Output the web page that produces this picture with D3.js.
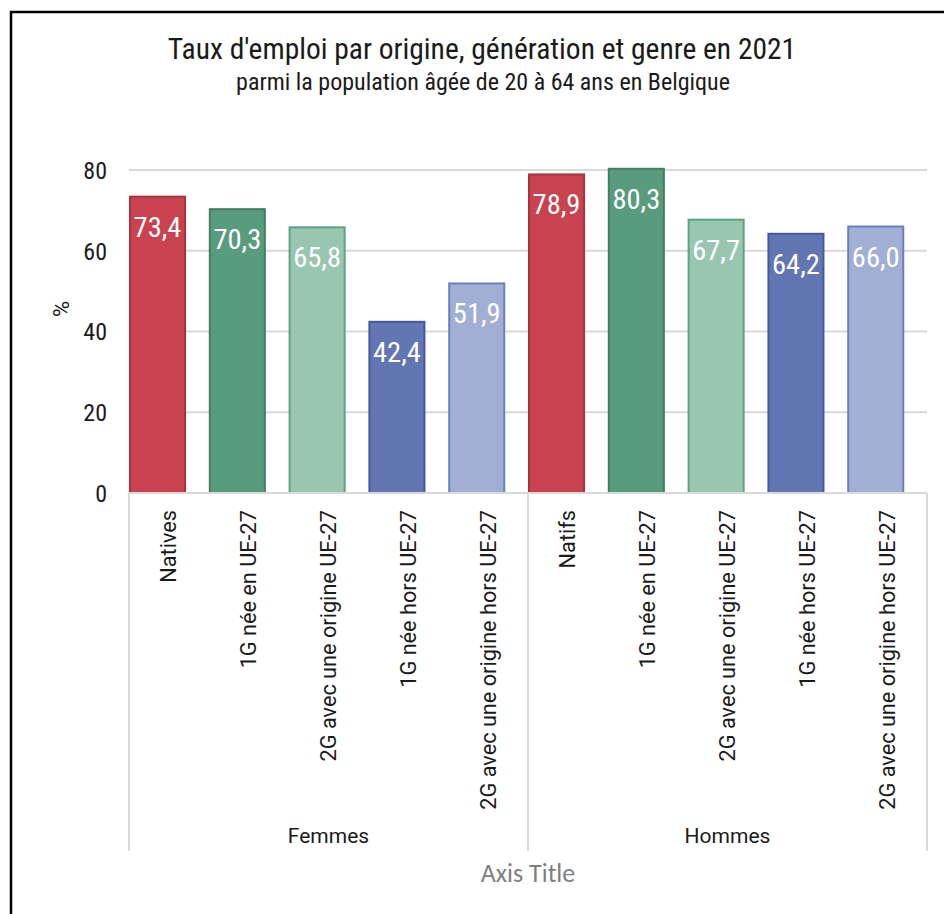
<!DOCTYPE html>
<html>
<head>
<meta charset="utf-8">
<script src="https://cdn.jsdelivr.net/npm/d3@7/dist/d3.min.js"></script>
<style>
  html, body { margin: 0; padding: 0; background: #fff; }
  svg { display: block; }
  .cond { font-family: "Roboto Condensed", "Liberation Sans Narrow", "Roboto", sans-serif; }
  .reg { font-family: "Roboto", "Liberation Sans", sans-serif; }
</style>
</head>
<body>
<svg id="chart" width="944" height="914"></svg>
<script>
// ---- data ----
const groups = ["Femmes", "Hommes"];
const categories = [
  "Natives", "1G née en UE-27", "2G avec une origine UE-27", "1G née hors UE-27", "2G avec une origine hors UE-27",
  "Natifs", "1G née en UE-27", "2G avec une origine UE-27", "1G née hors UE-27", "2G avec une origine hors UE-27"
];
const categoryGroup = ["Femmes","Femmes","Femmes","Femmes","Femmes","Hommes","Hommes","Hommes","Hommes","Hommes"];
const values = [73.4, 70.3, 65.8, 42.4, 51.9, 78.9, 80.3, 67.7, 64.2, 66.0];
const yTicks = [0, 20, 40, 60, 80];
const fills   = ["#C8434F", "#589C7D", "#98C6B0", "#6176B3", "#A2AFD4"];
const strokes = ["#A8333E", "#437E62", "#5FA283", "#445A9C", "#6A7FBE"];
const title = "Taux d'emploi par origine, génération et genre en 2021";
const subtitle = "parmi la population âgée de 20 à 64 ans en Belgique";

// ---- layout ----
const svg = d3.select("#chart");
const pLeft = 129, pRight = 927, pTop = 170, pBottom = 493;

// outer border
svg.append("rect").attr("x", 11).attr("y", 12).attr("width", 960).attr("height", 960)
  .attr("fill", "none").attr("stroke", "#000").attr("stroke-width", 2.5);

const idx = categories.map((d, i) => i);
const x = d3.scaleBand().domain(idx).range([pLeft, pRight]).paddingInner(0).paddingOuter(0);
const y = d3.scaleLinear().domain([0, 80]).range([pBottom, pTop]);
const barW = x.bandwidth() * 0.69;

// title
svg.append("text").attr("class", "cond").attr("x", 482).attr("y", 59)
  .attr("text-anchor", "middle").attr("font-size", 29.5).attr("fill", "#1a1a1a").text(title);
svg.append("text").attr("class", "cond").attr("x", 483).attr("y", 90)
  .attr("text-anchor", "middle").attr("font-size", 24).attr("fill", "#1a1a1a").text(subtitle);

// gridlines
svg.append("g").selectAll("line").data(yTicks.filter(t => t > 0)).join("line")
  .attr("x1", pLeft).attr("x2", pRight)
  .attr("y1", d => y(d)).attr("y2", d => y(d))
  .attr("stroke", "#d9d9d9").attr("stroke-width", 2);

// y axis tick labels
const yAxis = d3.axisLeft(y).tickValues(yTicks).tickSize(0).tickPadding(0);
const gy = svg.append("g").attr("transform", `translate(${pLeft - 22},0)`).call(yAxis);
gy.select(".domain").remove();
gy.selectAll("text").attr("class", "cond").attr("font-size", 24).attr("fill", "#1a1a1a").attr("dy", "0.35em");

// y axis title
svg.append("text").attr("class", "reg").attr("transform", "translate(69,309) rotate(-90)")
  .attr("text-anchor", "middle").attr("font-size", 22).attr("fill", "#1a1a1a").text("%");

// bars
svg.append("g").selectAll("rect").data(values).join("rect")
  .attr("x", (d, i) => x(i) + 1)
  .attr("y", d => y(d))
  .attr("width", barW)
  .attr("height", d => y(0) - y(d))
  .attr("fill", (d, i) => fills[i % 5])
  .attr("stroke", (d, i) => strokes[i % 5])
  .attr("stroke-width", 2);

// value labels
svg.append("g").selectAll("text").data(values).join("text")
  .attr("class", "cond")
  .attr("x", (d, i) => x(i) + 1 + barW / 2)
  .attr("y", d => y(d) + 40)
  .attr("text-anchor", "middle").attr("font-size", 28.5).attr("fill", "#fff")
  .text(d => d3.format(".1f")(d).replace(".", ","));

// x axis baseline
svg.append("line").attr("x1", pLeft).attr("x2", pRight).attr("y1", pBottom).attr("y2", pBottom)
  .attr("stroke", "#d9d9d9").attr("stroke-width", 2);

// group separators
const groupBounds = [pLeft, x(5), pRight];
svg.append("g").selectAll("line").data(groupBounds).join("line")
  .attr("x1", d => d).attr("x2", d => d).attr("y1", pBottom).attr("y2", 851)
  .attr("stroke", "#d9d9d9").attr("stroke-width", 2);

// category labels
svg.append("g").selectAll("text").data(categories).join("text")
  .attr("class", "reg")
  .attr("transform", (d, i) => `translate(${x(i) + x.bandwidth() / 2 + 7.5},510) rotate(-90)`)
  .attr("text-anchor", "end").attr("font-size", 21.7).attr("fill", "#1a1a1a")
  .text(d => d);

// group labels
svg.append("g").selectAll("text").data(groups).join("text")
  .attr("class", "reg")
  .attr("x", (d, i) => (groupBounds[i] + groupBounds[i + 1]) / 2)
  .attr("y", 843)
  .attr("text-anchor", "middle").attr("font-size", 21).attr("fill", "#1a1a1a").text(d => d);

// axis title
svg.append("text").attr("x", 528).attr("y", 882).attr("text-anchor", "middle")
  .attr("font-family", "Carlito, 'Open Sans', sans-serif").attr("font-size", 26)
  .attr("fill", "#7f7f7f").text("Axis Title");
</script>
</body>
</html>
